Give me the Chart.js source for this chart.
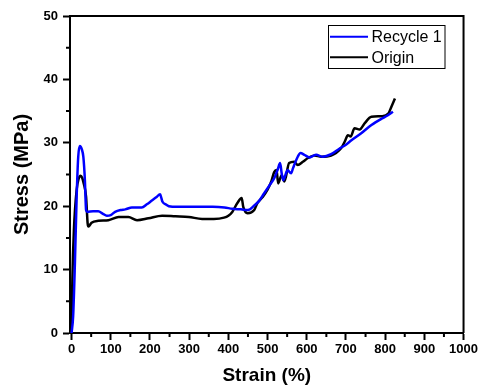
<!DOCTYPE html>
<html>
<head>
<meta charset="utf-8">
<script src="https://cdn.jsdelivr.net/npm/chart.js@4"></script>
<style>
  body { margin: 0; background: #fff; }
  #wrap { width: 480px; height: 387px; }
</style>
</head>
<body>
<div id="wrap"><canvas id="myChart"></canvas></div>
<script>
// Recycle 1 (blue)
const recycleStrain = [0, 4, 8.5, 13, 17, 21, 26, 30, 34, 37, 40, 55, 68, 80, 90, 100, 111, 125, 137, 154, 167, 179, 192, 205, 216, 226, 229, 232, 240, 248, 270, 300, 330, 360, 390, 410, 432, 450, 466, 478, 491, 504, 517, 526, 532, 536, 540, 546, 551, 560, 565, 570, 577, 584, 594, 607, 615, 624, 641, 662, 684, 700, 714, 739, 765, 791, 806, 820];
const recycleStress = [0, 2.6, 11, 21.5, 27.8, 29.5, 29, 27.8, 24.1, 19.4, 19.1, 19.2, 19.2, 18.8, 18.5, 18.6, 19.1, 19.4, 19.5, 19.8, 19.8, 19.8, 20.3, 20.9, 21.4, 21.9, 21.3, 20.7, 20.3, 20.0, 19.9, 19.9, 19.9, 19.9, 19.8, 19.6, 19.5, 19.4, 20.1, 20.8, 22.0, 23.2, 24.4, 25.8, 26.8, 25.2, 24.1, 25.0, 25.7, 25.2, 26.0, 26.8, 27.8, 28.4, 28.1, 27.7, 27.9, 28.1, 27.8, 28.2, 29.1, 29.7, 30.4, 31.5, 32.8, 33.8, 34.3, 34.9];

// Origin (black)
const originStrain = [0, 2, 6, 13, 18, 23, 27, 31, 37, 41, 43, 51, 68, 94, 120, 145, 167, 196, 231, 265, 299, 333, 363, 389, 400, 410, 423, 434, 438, 449, 466, 474, 487, 500, 510, 517, 523, 527, 536, 543, 555, 568, 577, 590, 603, 620, 637, 662, 688, 697, 705, 712, 722, 735, 748, 765, 791, 808, 816, 825];
const originStress = [0, 8.4, 16.3, 22.6, 24.3, 24.8, 24.5, 23.6, 21.5, 17.3, 16.8, 17.4, 17.7, 17.8, 18.3, 18.3, 17.8, 18.1, 18.5, 18.4, 18.3, 18.0, 18.0, 18.2, 18.5, 19.1, 20.5, 21.3, 19.9, 18.9, 19.4, 20.5, 21.4, 22.6, 24.0, 25.4, 25.7, 23.6, 24.9, 23.9, 26.8, 27.0, 26.5, 27.0, 27.6, 28.0, 27.8, 28.0, 29.2, 30.2, 31.2, 31.0, 32.3, 32.1, 33.1, 34.1, 34.2, 34.6, 35.7, 37.0];

const xTicks = [0, 100, 200, 300, 400, 500, 600, 700, 800, 900, 1000];
const yTicks = [0, 10, 20, 30, 40, 50];
const xMinor = [50, 150, 250, 350, 450, 550, 650, 750, 850, 950];
const yMinor = [5, 15, 25, 35, 45];

const FONT = "'Liberation Sans', Arial, sans-serif";

function toPoints(xs, ys) {
    return xs.map(function (x, i) { return { x: x, y: ys[i] }; });
}

// box around plot, minor ticks, legend
const framePlugin = {
    id: 'frame',
    afterDraw: function (chart) {
        const ctx = chart.ctx;
        const a = chart.chartArea;
        const xs = chart.scales.x;
        const ys = chart.scales.y;
        ctx.save();
        ctx.strokeStyle = '#000';
        ctx.lineWidth = 2;
        ctx.beginPath();
        ctx.moveTo(a.left, a.top);
        ctx.lineTo(a.right, a.top);
        ctx.lineTo(a.right, a.bottom);
        ctx.stroke();

        ctx.lineWidth = 2;
        ctx.beginPath();
        xMinor.forEach(function (v) {
            const px = xs.getPixelForValue(v);
            ctx.moveTo(px, a.bottom);
            ctx.lineTo(px, a.bottom + 4);
        });
        yMinor.forEach(function (v) {
            const py = ys.getPixelForValue(v);
            ctx.moveTo(a.left, py);
            ctx.lineTo(a.left - 4, py);
        });
        ctx.stroke();

        // legend
        const lx = 328.5, ly = 25.5, lw = 116.5, lh = 43;
        ctx.lineWidth = 1;
        ctx.strokeStyle = '#000';
        ctx.strokeRect(lx, ly, lw, lh);
        ctx.font = '16px ' + FONT;
        ctx.textBaseline = 'middle';
        ctx.fillStyle = '#000';
        const rows = [36.7, 57.3];
        chart.data.datasets.forEach(function (ds, i) {
            ctx.strokeStyle = ds.borderColor;
            ctx.lineWidth = 2;
            ctx.beginPath();
            ctx.moveTo(330, rows[i]);
            ctx.lineTo(368, rows[i]);
            ctx.stroke();
            ctx.fillText(ds.label, 371.5, rows[i] + 1);
        });
        ctx.restore();
    }
};

const ctx = document.getElementById('myChart');
new Chart(ctx, {
    type: 'scatter',
    data: {
        datasets: [{
            label: 'Recycle 1',
            data: toPoints(recycleStrain, recycleStress),
            borderColor: '#0000ff',
            borderWidth: 2.5,
            showLine: true,
            pointRadius: 0,
            cubicInterpolationMode: 'monotone'
        }, {
            label: 'Origin',
            data: toPoints(originStrain, originStress),
            borderColor: '#000000',
            borderWidth: 2.5,
            showLine: true,
            pointRadius: 0,
            cubicInterpolationMode: 'monotone'
        }]
    },
    options: {
        responsive: true,
        maintainAspectRatio: false,
        animation: false,
        layout: { padding: { left: 0, right: 16, top: 16, bottom: 0 } },
        plugins: {
            legend: { display: false },
            tooltip: { enabled: false }
        },
        scales: {
            x: {
                type: 'linear',
                min: -4,
                max: 1000,
                afterBuildTicks: function (s) { s.ticks = xTicks.map(function (v) { return { value: v }; }); },
                afterFit: function (s) { s.height = 54; },
                border: { display: true, color: '#000', width: 2 },
                grid: { display: true, drawOnChartArea: false, drawTicks: true, tickLength: 7, tickWidth: 2, tickColor: '#000' },
                ticks: {
                    color: '#000', padding: 2, maxRotation: 0,
                    font: { family: FONT, size: 13, weight: 'bold' },
                    callback: function (v) { return String(v); }
                },
                title: { display: true, text: 'Strain (%)', color: '#000', padding: 0, font: { family: FONT, size: 19, weight: 'bold' } }
            },
            y: {
                type: 'linear',
                min: 0,
                max: 50,
                afterBuildTicks: function (s) { s.ticks = yTicks.map(function (v) { return { value: v }; }); },
                afterFit: function (s) { s.width = 70; },
                border: { display: true, color: '#000', width: 2 },
                grid: { display: true, drawOnChartArea: false, drawTicks: true, tickLength: 7, tickWidth: 2, tickColor: '#000' },
                ticks: { color: '#000', padding: 5, font: { family: FONT, size: 13, weight: 'bold' } },
                title: { display: true, text: 'Stress (MPa)', color: '#000', padding: { top: 10, bottom: 0 }, font: { family: FONT, size: 20, weight: 'bold' } }
            }
        }
    },
    plugins: [framePlugin]
});
</script>
</body>
</html>
